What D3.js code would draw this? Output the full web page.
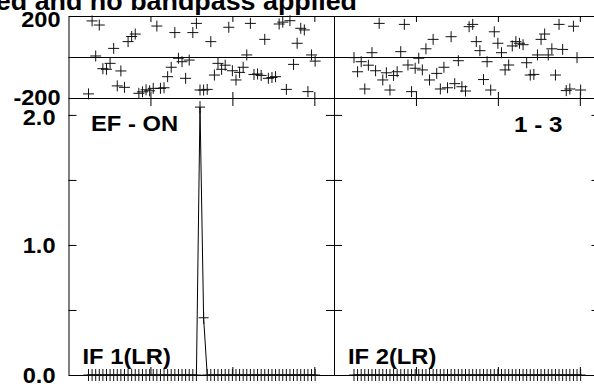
<!DOCTYPE html>
<html><head><meta charset="utf-8">
<script src="https://cdn.jsdelivr.net/npm/d3@7"></script>
<style>html,body{margin:0;padding:0;background:#fff;overflow:hidden}</style>
</head><body><svg id="c" width="594" height="384"></svg>
<script>
// ---- data ----
const titleText = "Calibration not applied and no bandpass applied";
const sourceLabel = "EF - ON";
const baselineLabel = "1 - 3";
const ifLabels = ["IF 1(LR)", "IF 2(LR)"];
const channels = d3.range(1, 65);
const chanStartFreq = 0.244, chanWidth = 0.0439;   // frequency of channel 1, channel spacing
const freqTicks = [1, 2, 3];
const phaseTicks = [-200, 0, 200];
const phaseTickLabels = ["-200", "", "200"];
const ampTicks = [0, 0.5, 1.0, 1.5, 2.0];
const ampTickLabels = ["0.0", "", "1.0", "", "2.0"];
const phaseIF1 = [-180, 176, 5, 156, -57, -60, -31, 42, -141, -68,
  -148, 75, 100, 112, -177, -170, -160, -165, -153, 151,
  -153, -150, -96, -50, 119, -6, -23, -104, -15, 119,
  164, -161, -161, -158, 75, -88, -31, -60, -40, 145,
  -67, -112, -75, -50, 10, 164, -85, -83, -90, 86,
  -104, -100, -96, 161, 170, -158, 177, -36, 67, 140,
  132, -169, 10, -20];
const phaseIF2 = [-3, -72, -23, -156, -40, 21, -67, 164, -112, -77,
  -161, -90, -72, 26, 159, -39, -169, -55, -6, -63,
  40, -112, 86, -80, -156, -50, -150, 99, -130, -18,
  -145, -166, 148, 159, 75, 31, -110, -23, -161, 123,
  67, 21, -63, -39, 54, 75, 67, 60, -28, -88,
  -85, 10, 86, 112, 10, 40, -88, 159, 37, -164,
  -156, 150, -3, -161];
const ampIF1 = [0,0,0,0,0,0,0,0,0,0, 0,0,0,0,0,0,0,0,0,0,
  0,0,0,0,0,0,0,0,0,0, 0,2.06,0.44,0,0,0,0,0,0,0,
  0,0,0,0,0,0,0,0,0,0, 0,0,0,0,0,0,0,0,0,0, 0,0,0,0];
const ampIF2 = [0,0,0,0,0,0,0,0,0,0, 0,0,0,0,0,0,0,0,0,0,
  0,0,0,0,0,0,0,0,0,0, 0,0,0,0,0,0,0,0,0,0,
  0,0,0,0,0,0,0,0,0,0, 0,0,0,0,0,0,0,0,0,0, 0,0,0,0];

// ---- layout ----
const svg = d3.select("#c");
const FONT = "'Liberation Sans', Arial, Helvetica, sans-serif";
const panelX0 = 68.5, panelW = 265.5;
const phTop = 16, phBot = 98, ampBot = 375;

const x = d3.scaleLinear().domain([0, 3.24]).range([0, panelW]);
const yPh = d3.scaleLinear().domain([-200, 200]).range([phBot, phTop]);
const yAmp = d3.scaleLinear().domain([0, 2.13]).range([ampBot, phBot]);

function txt(g, s, tx, ty, size, sx, anchor) {
  g.append("g").attr("transform", `translate(${tx},${ty}) scale(${sx},1)`)
    .append("text").attr("text-anchor", anchor || "start")
    .attr("font-family", FONT).attr("font-weight", "bold")
    .attr("font-size", size).attr("fill", "#000").text(s);
}

function styleAxis(g) {
  g.selectAll("path,line").attr("stroke", "#000").attr("stroke-width", 1);
  g.selectAll("text").remove();
}

const cross = "M-5.5,0H5.5M0,-5.5V5.5";

[[phaseIF1, ampIF1], [phaseIF2, ampIF2]].forEach(([ph, amp], i) => {
  const g = svg.append("g").attr("transform", `translate(${panelX0 + i * panelW},0)`);
  const chX = c => x(chanStartFreq + (c - 1) * chanWidth);

  g.append("g")
    .call(d3.axisRight(yPh).tickValues(phaseTicks).tickSize(panelW).tickSizeOuter(0).tickFormat(""))
    .call(styleAxis);
  g.append("g").attr("transform", `translate(${panelW},0)`)
    .call(d3.axisLeft(yPh).tickValues([]).tickSizeOuter(0)).call(styleAxis);
  g.append("g").attr("transform", `translate(0,${phTop})`)
    .call(d3.axisBottom(x).tickValues(freqTicks).tickSize(6).tickSizeOuter(0).tickFormat("")).call(styleAxis);
  g.append("g").attr("transform", `translate(0,${phBot})`)
    .call(d3.axisTop(x).tickValues(freqTicks).tickSize(6).tickSizeOuter(0).tickFormat("")).call(styleAxis);

  g.append("g").call(d3.axisRight(yAmp).tickValues(ampTicks).tickSize(8).tickSizeOuter(0).tickFormat("")).call(styleAxis);
  g.append("g").attr("transform", `translate(${panelW},0)`)
    .call(d3.axisLeft(yAmp).tickValues(ampTicks).tickSize(8).tickSizeOuter(0).tickFormat("")).call(styleAxis);
  g.append("g").attr("transform", `translate(0,${ampBot})`)
    .call(d3.axisTop(x).tickValues(freqTicks).tickSize(8).tickSizeOuter(0).tickFormat("")).call(styleAxis);
  g.append("g").attr("transform", `translate(0,${phBot})`)
    .call(d3.axisBottom(x).tickValues(freqTicks).tickSize(8).tickSizeOuter(0).tickFormat("")).call(styleAxis);

  g.append("g").selectAll("path").data(ph).join("path")
    .attr("d", cross)
    .attr("transform", (d, k) => `translate(${chX(channels[k])},${yPh(d)})`)
    .attr("stroke", "#111").attr("stroke-width", 1).attr("fill", "none");

  const line = d3.line().x((d, k) => chX(channels[k])).y(d => yAmp(d));
  g.append("path").datum(amp).attr("d", line).attr("fill", "none").attr("stroke", "#000").attr("stroke-width", 1);
  g.append("g").selectAll("path").data(amp).join("path")
    .attr("d", "M-5,0H5M0,-6V6")
    .attr("transform", (d, k) => `translate(${chX(channels[k])},${yAmp(d)})`)
    .attr("stroke", "#111").attr("stroke-width", 1).attr("fill", "none");

  txt(g, ifLabels[i], 14, 364, 22, 1.08, "start");
});

txt(svg, titleText, 357, 10, 25, 1.075, "end");
txt(svg, sourceLabel, 91, 131, 22, 1.08, "start");
txt(svg, baselineLabel, 562.5, 131.5, 22, 1.1, "end");

const phLabelY = {"200": 27, "-200": 105};
phaseTicks.forEach((v, k) => {
  const s = phaseTickLabels[k]; if (!s) return;
  txt(svg, s, 60.5, phLabelY[s], 22, 1.07, "end");
});
const ampLabelY = {"2.0": 124.5, "1.0": 253, "0.0": 383};
ampTicks.forEach((v, k) => {
  const s = ampTickLabels[k]; if (!s) return;
  txt(svg, s, 55.5, ampLabelY[s], 22, 1.07, "end");
});
</script></body></html>
